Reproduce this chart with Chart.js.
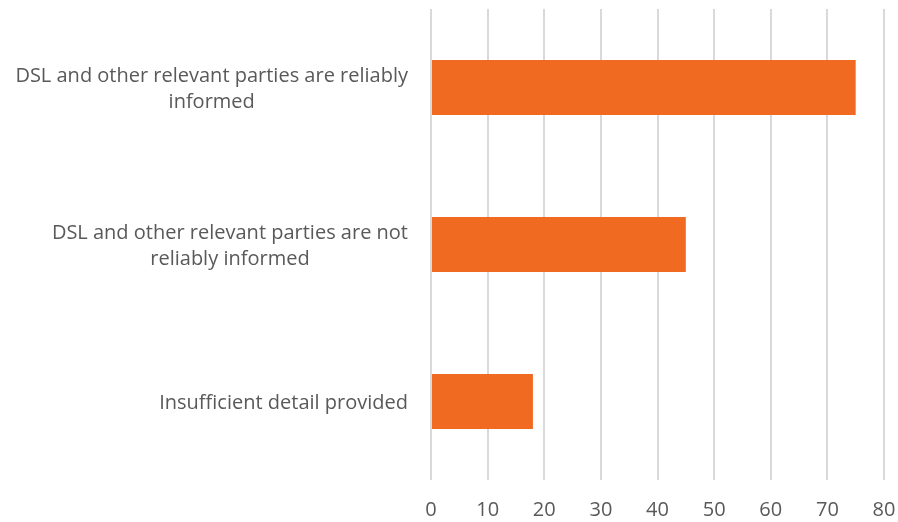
<!DOCTYPE html>
<html>
<head>
<meta charset="utf-8">
<script src="https://cdn.jsdelivr.net/npm/chart.js@4"></script>
<style>
  html, body { margin: 0; padding: 0; background: #fff; }
  #wrap { width: 898px; height: 522px; }
</style>
</head>
<body>
<div id="wrap"><canvas id="bars" width="898" height="522"></canvas></div>
<script>
var categories = [
    ['DSL and other relevant parties are reliably', 'informed'],
    ['DSL and other relevant parties are not', 'reliably informed'],
    ['Insufficient detail provided']
];
var values = [75, 45, 18];
var xTicks = [0, 10, 20, 30, 40, 50, 60, 70, 80];

var FONT = '"Open Sans", Lato, sans-serif';
var TEXT = '#595959';
var SIZE = 20;

// draw the category labels with each line centred on the others (Excel style)
var centredLabels = {
    id: 'centredLabels',
    afterDraw: function (chart) {
        var sc = chart.scales.y, ctx = chart.ctx;
        ctx.save();
        ctx.font = SIZE + 'px ' + FONT;
        ctx.fillStyle = TEXT;
        ctx.textAlign = 'center';
        ctx.textBaseline = 'middle';
        var lh = 26;
        categories.forEach(function (lines, i) {
            var w = 0;
            lines.forEach(function (l) { w = Math.max(w, ctx.measureText(l).width); });
            var cx = sc.right - 23 - w / 2;
            var cy = sc.getPixelForTick(i) + 1.5;
            var y0 = cy - (lines.length - 1) * lh / 2;
            lines.forEach(function (l, k) { ctx.fillText(l, cx, y0 + k * lh); });
        });
        ctx.restore();
    }
};

var ctx = document.getElementById('bars').getContext('2d');
var chart = new Chart(ctx, {
    type: 'bar',
    data: {
        labels: categories,
        datasets: [{
            data: values,
            backgroundColor: '#F16A21',
            borderWidth: 0,
            barPercentage: 0.35,
            categoryPercentage: 1
        }]
    },
    options: {
        indexAxis: 'y',
        responsive: false,
        animation: false,
        layout: { padding: { top: 9, right: 14, left: 0, bottom: 0 } },
        plugins: { legend: { display: false }, tooltip: { enabled: false } },
        scales: {
            x: {
                min: 0, max: 80,
                afterBuildTicks: function (s) { s.ticks = xTicks.map(function (v) { return { value: v }; }); },
                afterFit: function (s) { s.height = 42; s.paddingRight = 0; s.paddingLeft = 0; },
                grid: { color: '#d9d9d9', lineWidth: 2, drawTicks: false },
                border: { display: false },
                ticks: { color: TEXT, font: { family: FONT, size: SIZE }, padding: 18 }
            },
            y: {
                afterFit: function (s) { s.width = 431; s.paddingTop = 0; s.paddingBottom = 0; },
                grid: { display: false },
                border: { display: false },
                ticks: { display: false }
            }
        }
    },
    plugins: [centredLabels]
});
</script>
</body>
</html>
